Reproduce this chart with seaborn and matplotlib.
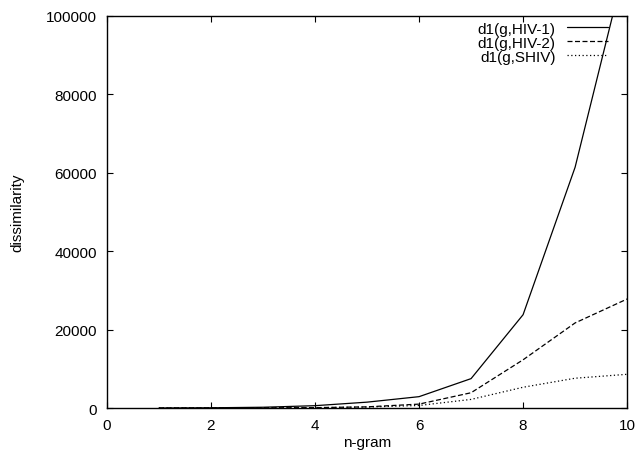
import pandas as pd
import matplotlib
matplotlib.use("Agg")
import matplotlib.pyplot as plt
import seaborn as sns

# valores
ngram = [1, 2, 3, 4, 5, 6, 7, 8, 9, 10]
hiv1 = [10, 60, 200, 600, 1500, 2900, 7500, 23800, 61400, 115000]
hiv2 = [5, 20, 50, 100, 300, 1000, 3900, 12300, 21700, 27800]
shiv = [5, 15, 40, 80, 250, 650, 2200, 5300, 7600, 8600]

series = ["d1(g,HIV-1)", "d1(g,HIV-2)", "d1(g,SHIV)"]

df = pd.DataFrame({
    "n": ngram * 3,
    "valor": hiv1 + hiv2 + shiv,
    "serie": [series[0]] * 10 + [series[1]] * 10 + [series[2]] * 10,
})

sns.set_style("ticks")
plt.rcParams["font.family"] = ["Liberation Sans", "DejaVu Sans"]
plt.rcParams["font.size"] = 11
plt.rcParams["text.color"] = "black"
plt.rcParams["axes.labelcolor"] = "black"
plt.rcParams["xtick.color"] = "black"
plt.rcParams["ytick.color"] = "black"
plt.rcParams["axes.edgecolor"] = "black"

fig = plt.figure(figsize=(6.39, 4.56), dpi=100)
ax = fig.add_axes([0.1674, 0.103, 0.814, 0.860])

estilos = {series[0]: "", series[1]: (4, 2), series[2]: (1, 2)}
sns.lineplot(data=df, x="n", y="valor", hue="serie", style="serie",
             palette=["black"] * 3, dashes=estilos, linewidth=0.9, ax=ax)

ax.set_xlim(0, 10)
ax.set_ylim(0, 100000)
ax.set_xticks([0, 2, 4, 6, 8, 10])
ax.set_yticks([0, 20000, 40000, 60000, 80000, 100000])
ax.tick_params(direction="in", top=True, right=True, length=4.5, width=0.8,
               labelsize=11, pad=7)
for s in ax.spines.values():
    s.set_linewidth(1.0)
ax.set_xlabel("n-gram", fontsize=11, labelpad=2)
ax.set_ylabel("dissimilarity", fontsize=11, labelpad=16)

leg = ax.legend(loc="upper right", bbox_to_anchor=(0.963, 0.985), frameon=False,
                markerfirst=False, fontsize=11, handlelength=2.7,
                borderpad=0, borderaxespad=0, labelspacing=0.0, handletextpad=0.72)
for t in leg.get_texts():
    t.set_ha("right")

fig.savefig("out.png", dpi=100)
